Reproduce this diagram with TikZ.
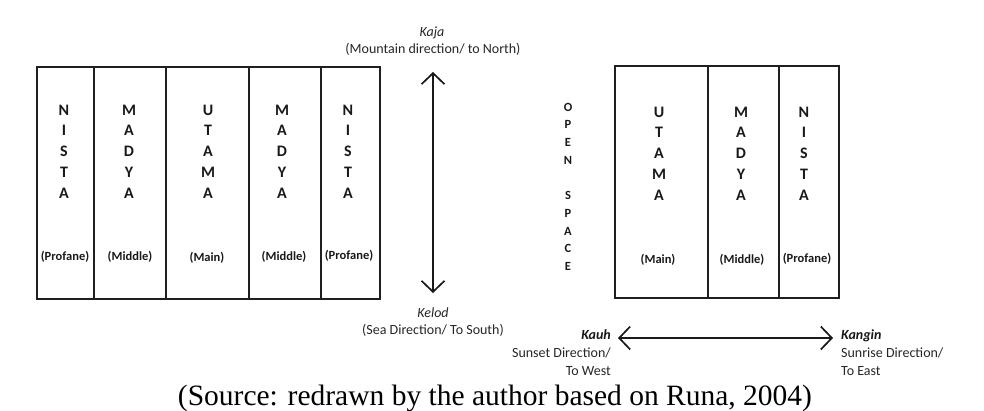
\documentclass[tikz,border=0pt]{standalone}
\usepackage{fontspec}
\setmainfont{Liberation Serif}
\newfontfamily\cfont{Carlito}
\usetikzlibrary{arrows.meta}
\tikzset{
  col/.style={draw=black!88, line width=1.8pt, inner sep=0pt, anchor=north west, minimum height=232pt},
  letters/.style={font=\cfont\bfseries\fontsize{16}{20.7}\selectfont, align=center, inner sep=0pt, text=black!90},
  openletters/.style={font=\cfont\bfseries\fontsize{12.5}{17.7}\selectfont, align=center, inner sep=0pt, text=black!90},
  sublabel/.style={font=\cfont\bfseries\fontsize{12.5}{14}\selectfont, inner sep=0pt, text=black!90},
  dirtext/.style={font=\cfont\fontsize{14}{17}\selectfont, inner sep=0pt, text=black!85},
  dirname/.style={font=\cfont\itshape\fontsize{14}{17}\selectfont, inner sep=0pt, text=black!85},
  dirnamebold/.style={font=\cfont\bfseries\itshape\fontsize{14}{17}\selectfont, inner sep=0pt, text=black!90},
  dirarrow/.style={line width=1.7pt, draw=black!90, {Straight Barb[length=11pt,width=23pt]}-{Straight Barb[length=11pt,width=23pt]}},
  caption/.style={font=\fontsize{29.5}{33}\selectfont, inner sep=0pt, anchor=base},
}
\begin{document}
\begin{tikzpicture}[x=1pt,y=-1pt]
\useasboundingbox (0,0) rectangle (984,411);
% left building
\node[col, minimum width=57pt] (L1) at (36,66) {};
\node[col, minimum width=72pt] (L2) at (93,66) {};
\node[col, minimum width=83pt] (L3) at (165,66) {};
\node[col, minimum width=72pt] (L4) at (248,66) {};
\node[col, minimum width=59pt] (L5) at (320,66) {};
\node[letters] (L1t) at (64,151.5) {N\\I\\S\\T\\A};
\node[letters] (L2t) at (129,151.5) {M\\A\\D\\Y\\A};
\node[letters] (L3t) at (208,151.5) {U\\T\\A\\M\\A};
\node[letters] (L4t) at (282,151.5) {M\\A\\D\\Y\\A};
\node[letters] (L5t) at (348,151.5) {N\\I\\S\\T\\A};
\node[sublabel] (L1s) at (65,257) {(Profane)};
\node[sublabel] (L2s) at (130,257) {(Middle)};
\node[sublabel] (L3s) at (207,258) {(Main)};
\node[sublabel] (L4s) at (284,257) {(Middle)};
\node[sublabel] (L5s) at (349,256) {(Profane)};
% right building
\node[col, minimum width=93pt] (R1) at (614,65) {};
\node[col, minimum width=71pt] (R2) at (707,65) {};
\node[col, minimum width=60pt] (R3) at (778,65) {};
\node[letters] (R1t) at (659,153.5) {U\\T\\A\\M\\A};
\node[letters] (R2t) at (741,153.5) {M\\A\\D\\Y\\A};
\node[letters] (R3t) at (804,153.5) {N\\I\\S\\T\\A};
\node[sublabel] (R1s) at (658,260) {(Main)};
\node[sublabel] (R2s) at (742,260) {(Middle)};
\node[sublabel] (R3s) at (807,259) {(Profane)};
\node[openletters] (open) at (568,186.7) {O\\P\\E\\N\\[17.7pt]S\\P\\A\\C\\E};
% north-south arrow
\coordinate (kajaPt) at (433,72);
\coordinate (kelodPt) at (433,293);
\draw[dirarrow] (kelodPt) -- (kajaPt);
\node[dirname, anchor=base] (kaja) at (432,37) {Kaja};
\node[dirtext, anchor=base] (kajaD) at (433,54) {(Mountain direction/ to North)};
\node[dirname, anchor=base] (kelod) at (433,317) {Kelod};
\node[dirtext, anchor=base] (kelodD) at (433,334) {(Sea Direction/ To South)};
% west-east arrow
\coordinate (kauhPt) at (618,338);
\coordinate (kanginPt) at (833,338);
\draw[dirarrow] (kauhPt) -- (kanginPt);
\node[dirnamebold, anchor=base east] (kauh) at (611,339) {Kauh};
\node[dirtext, anchor=base east] (kauhD1) at (611,357) {Sunset Direction/};
\node[dirtext, anchor=base east] (kauhD2) at (611,375) {To West};
\node[dirnamebold, anchor=base west] (kangin) at (841,339) {Kangin};
\node[dirtext, anchor=base west] (kanginD1) at (841,357) {Sunrise Direction/};
\node[dirtext, anchor=base west] (kanginD2) at (841,375) {To East};
% caption
\node[caption] (cap) at (495,405) {(Source: redrawn by the author based on Runa, 2004)};
\end{tikzpicture}
\end{document}
